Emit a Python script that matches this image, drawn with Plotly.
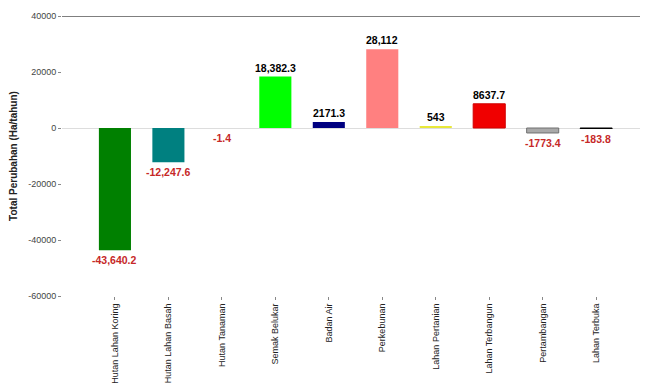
import plotly.graph_objects as go

# Land-cover categories and their total change (ha/year)
categories = [
    "Hutan Lahan Koring", "Hutan Lahan Basah", "Hutan Tanaman", "Semak Belukar",
    "Badan Air", "Perkebunan", "Lahan Pertanian", "Lahan Terbangun",
    "Pertambangan", "Lahan Terbuka",
]
values = [-43640.2, -12247.6, -1.4, 18382.3, 2171.3, 28112, 543, 8637.7, -1773.4, -183.8]
bar_colors = [
    "#008000", "#008080", "#8b0000", "#00ff00", "#000080",
    "#ff8080", "#e8e83a", "#f00000", "#a9a9a9", "#000000",
]
edge_colors = [
    "#008000", "#008080", "#8b0000", "#00ff00", "#000080",
    "#ff8080", "#e8e83a", "#d00000", "#707070", "#000000",
]
edge_widths = [0, 0, 0, 0, 0, 0, 0, 1, 1, 1]
y_ticks = [40000, 20000, 0, -20000, -40000, -60000]


def fmt(v):
    if abs(v) >= 10000:
        s = f"{v:,.1f}"
    else:
        s = f"{v:.1f}"
    if s.endswith(".0"):
        s = s[:-2]
    return s


fig = go.Figure()
fig.add_trace(
    go.Bar(
        x=categories,
        y=values,
        width=0.6,
        marker=dict(color=bar_colors, line=dict(color=edge_colors, width=edge_widths)),
        hoverinfo="x+y",
    )
)

# value labels above positive bars, below negative ones
for cat, v in zip(categories, values):
    pos = v >= 0
    fig.add_annotation(
        x=cat,
        y=v,
        text=f"<b>{fmt(v)}</b>",
        showarrow=False,
        xanchor="center",
        yanchor="bottom" if pos else "top",
        yshift=1 if pos else -2,
        font=dict(family="Liberation Sans, Arial, sans-serif", size=10.5,
                  color="#000000" if pos else "#c62828"),
    )

fig.add_shape(type="line", xref="paper", yref="y", x0=0, x1=1, y0=40000, y1=40000,
              line=dict(color="#555555", width=1.5))

fig.update_layout(
    width=649,
    height=385,
    margin=dict(l=62, r=9, t=16, b=89),
    paper_bgcolor="white",
    plot_bgcolor="white",
    showlegend=False,
    font=dict(family="Liberation Sans, Arial, sans-serif", color="#333333"),
    xaxis=dict(
        range=[-0.99, 9.82],
        tickangle=-90,
        tickfont=dict(size=9, color="#222222"),
        showgrid=False,
        zeroline=False,
        showline=False,
        ticks="outside",
        ticklen=3,
        tickcolor="#888888",
        automargin=False,
    ),
    yaxis=dict(
        range=[-60000, 40000],
        tickvals=y_ticks,
        ticktext=[str(t) for t in y_ticks],
        tickfont=dict(size=9, color="#444444"),
        showgrid=False,
        zeroline=True,
        zerolinecolor="#dddddd",
        zerolinewidth=1,
        showline=False,
        ticks="outside",
        ticklen=3,
        tickcolor="#888888",
        automargin=False,
        title=dict(text="<b>Total Perubahan (Ha/tahun)</b>", font=dict(size=10, color="#222222"),
                   standoff=8),
    ),
)

fig.write_html("out.html")
